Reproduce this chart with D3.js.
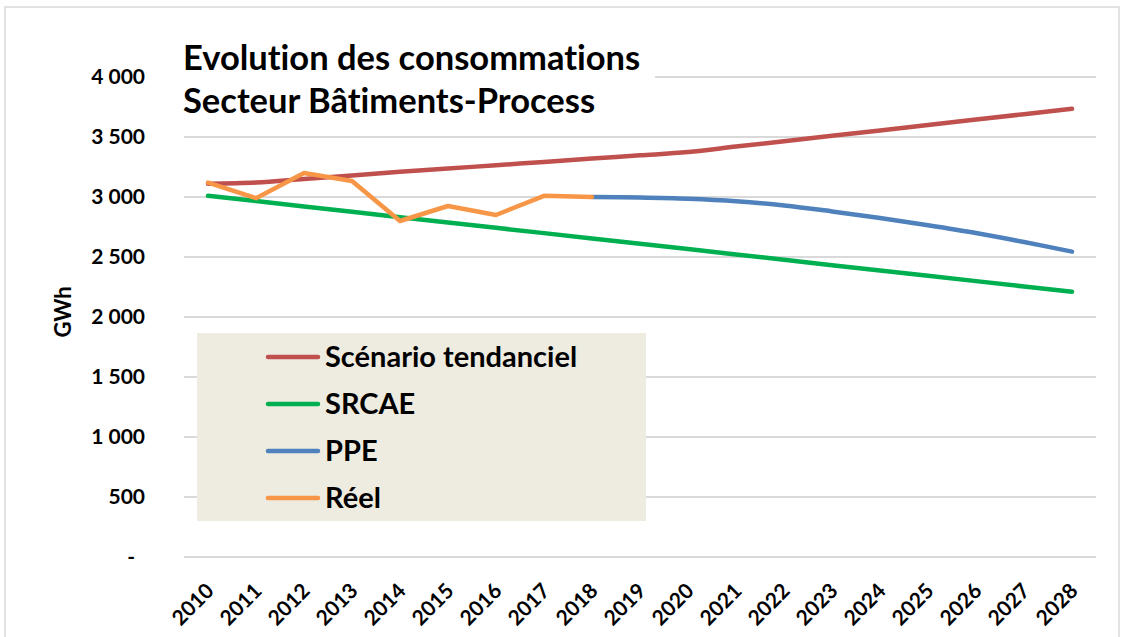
<!DOCTYPE html>
<html>
<head>
<meta charset="utf-8">
<script src="https://cdn.jsdelivr.net/npm/d3@7"></script>
<style>
  body { margin: 0; background: #fff; }
  text { font-family: Lato, "Open Sans", sans-serif; font-weight: bold; fill: #000; font-variant-ligatures: none; }
</style>
</head>
<body>
<script>
var years = [2010, 2011, 2012, 2013, 2014, 2015, 2016, 2017, 2018, 2019,
             2020, 2021, 2022, 2023, 2024, 2025, 2026, 2027, 2028];

var tendanciel = [3110, 3120, 3150, 3180, 3210, 3237, 3265, 3292, 3320, 3347,
                  3375, 3420, 3465, 3510, 3555, 3600, 3645, 3690, 3735];
var srcae = [3010, 2966, 2921, 2877, 2832, 2788, 2743, 2699, 2654, 2610,
             2566, 2521, 2477, 2432, 2388, 2343, 2299, 2254, 2210];
var ppeYears = [2018, 2019, 2020, 2021, 2022, 2023, 2024, 2025, 2026, 2027, 2028];
var ppe = [3000, 2995, 2985, 2965, 2930, 2880, 2825, 2765, 2700, 2625, 2545];
var reelYears = [2010, 2011, 2012, 2013, 2014, 2015, 2016, 2017, 2018];
var reel = [3120, 2990, 3200, 3133, 2800, 2925, 2850, 3010, 3000];

var yTicks = [0, 500, 1000, 1500, 2000, 2500, 3000, 3500, 4000];
var titleLines = ["Evolution des consommations", "Secteur Bâtiments-Process"];

var width = 1126, height = 637;

var svg = d3.select("body").append("svg")
    .attr("width", width)
    .attr("height", height);

// outer chart border
svg.append("rect")
    .attr("x", 5).attr("y", 7)
    .attr("width", 1114).attr("height", 640)
    .attr("fill", "#fff")
    .attr("stroke", "#d9d9d9")
    .attr("stroke-width", 1.5);

var x = d3.scaleBand()
    .domain(years)
    .range([184, 1096]);

var y = d3.scaleLinear()
    .domain([0, 4000])
    .range([557, 77]);

function cx(yr) { return x(yr) + x.bandwidth() / 2; }

// gridlines
svg.append("g")
  .selectAll("line")
  .data(yTicks)
  .enter().append("line")
    .attr("x1", 184).attr("x2", 1096)
    .attr("y1", function(d) { return y(d); })
    .attr("y2", function(d) { return y(d); })
    .attr("stroke", "#d9d9d9")
    .attr("stroke-width", 2);

// y labels
var yAxis = d3.axisLeft(y)
    .tickValues(yTicks)
    .tickSize(0)
    .tickPadding(0)
    .tickFormat(function(d) { return d === 0 ? "-" : d3.format(",")(d).replace(",", " "); });

svg.append("g")
    .attr("transform", "translate(145,0)")
    .call(yAxis)
    .call(function(g) { g.select(".domain").remove(); })
    .selectAll("text")
    .attr("font-size", 21)
    .attr("font-family", "Lato, sans-serif")
    .attr("font-weight", "bold")
    .attr("x", function(d) { return d === 0 ? -10 : 0; });

svg.append("text")
    .attr("transform", "translate(71,312) rotate(-90)")
    .attr("text-anchor", "middle")
    .attr("font-size", 22)
    .text("GWh");

// x labels
var xAxis = d3.axisBottom(x).tickSize(0).tickPadding(0);
svg.append("g")
    .attr("transform", "translate(0,557)")
    .call(xAxis)
    .call(function(g) { g.select(".domain").remove(); })
    .selectAll("text")
    .attr("font-size", 21)
    .attr("font-family", "Lato, sans-serif")
    .attr("font-weight", "bold")
    .attr("text-anchor", "end")
    .attr("y", 0)
    .attr("dy", "0.35em")
    .attr("transform", "translate(2,30) rotate(-45)");

// title box
svg.append("rect")
    .attr("x", 170).attr("y", 35)
    .attr("width", 485).attr("height", 92)
    .attr("fill", "#fff");

svg.selectAll(".title")
  .data(titleLines)
  .enter().append("text")
    .attr("class", "title")
    .attr("x", 183)
    .attr("y", function(d, i) { return 70 + i * 43; })
    .attr("font-size", 34.5)
    .text(function(d) { return d; });

// series
var series = [
  {name: "Scénario tendanciel", color: "#c0504d", xs: years, vs: tendanciel, curve: d3.curveCatmullRom},
  {name: "SRCAE", color: "#00b050", xs: years, vs: srcae, curve: d3.curveLinear},
  {name: "PPE", color: "#4f81bd", xs: ppeYears, vs: ppe, curve: d3.curveCatmullRom},
  {name: "Réel", color: "#f79646", xs: reelYears, vs: reel, curve: d3.curveLinear}
];

series.forEach(function(s) {
  var pts = s.xs.map(function(yr, i) { return [cx(yr), y(s.vs[i])]; });
  svg.append("path")
      .attr("d", d3.line().curve(s.curve)(pts))
      .attr("fill", "none")
      .attr("stroke", s.color)
      .attr("stroke-width", 4.5)
      .attr("stroke-linecap", "round")
      .attr("stroke-linejoin", "round");
});

// legend
var legend = svg.append("g");
legend.append("rect")
    .attr("x", 197).attr("y", 333)
    .attr("width", 449).attr("height", 188)
    .attr("fill", "#eeebe0");

var item = legend.selectAll(".item")
  .data(series)
  .enter().append("g")
    .attr("transform", function(d, i) { return "translate(0," + (357 + i * 47) + ")"; });

item.append("line")
    .attr("x1", 268).attr("x2", 318)
    .attr("stroke", function(d) { return d.color; })
    .attr("stroke-width", 4.5)
    .attr("stroke-linecap", "round");

item.append("text")
    .attr("x", 325)
    .attr("dy", "0.36em")
    .attr("font-size", 29)
    .text(function(d) { return d.name; });
</script>
</body>
</html>
